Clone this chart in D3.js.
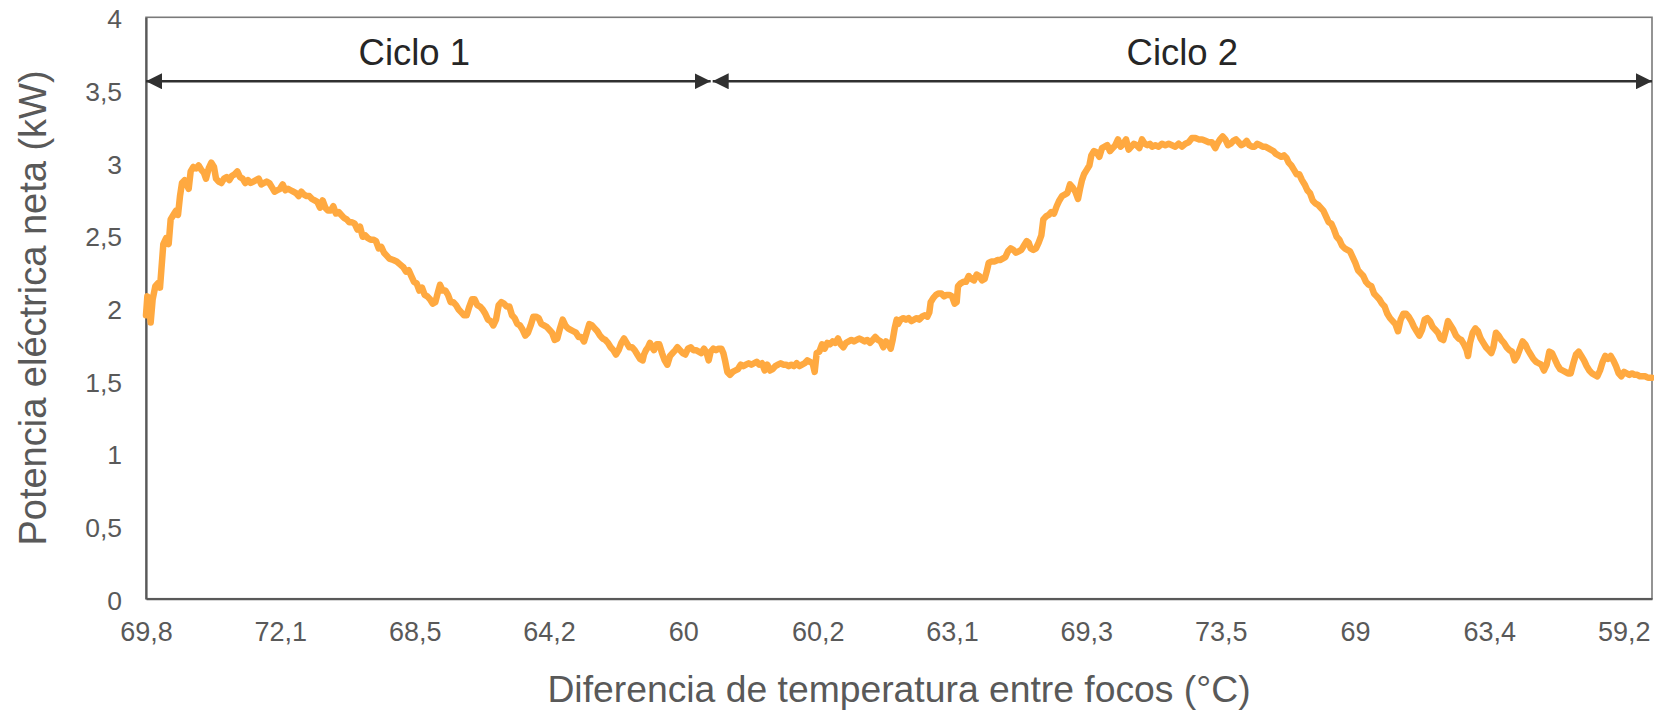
<!DOCTYPE html>
<html>
<head>
<meta charset="utf-8">
<script src="https://cdn.jsdelivr.net/npm/d3@7/dist/d3.min.js"></script>
<style>
  html, body { margin: 0; padding: 0; background: #ffffff; }
  svg { display: block; font-family: "Liberation Sans", Arial, sans-serif; }
</style>
</head>
<body>
<svg id="chart" width="1654" height="712"></svg>
<script>
// ---------------- DATA ----------------
// Category tick labels (Diferencia de temperatura entre focos, °C), one every 403 samples
const xTickLabels = ["69,8","72,1","68,5","64,2","60","60,2","63,1","69,3","73,5","69","63,4","59,2"];
const tickInterval = 403;
const sampleCount = 4518;
const yTickValues = [0, 0.5, 1, 1.5, 2, 2.5, 3, 3.5, 4];

// Cycle annotations: [label, startSample, endSample]
const cycles = [["Ciclo 1", 0, 1694], ["Ciclo 2", 1700, 4518]];
const cycleLevel = 3.56;

// Net electric power (kW): [sample index, value]
const powerReadings = [
[0,1.95],[4,2.08],[9,2.07],[14,1.90],[20,2.06],[28,2.15],[36,2.17],[42,2.14],[46,2.26],[52,2.44],[60,2.48],[68,2.44],
[74,2.61],[82,2.64],[90,2.67],[96,2.64],[102,2.77],[108,2.86],[116,2.88],[122,2.85],[128,2.82],[134,2.94],[142,2.97],
[150,2.96],[158,2.98],[166,2.95],[174,2.93],[180,2.89],[188,2.96],[196,3.00],[204,2.97],[210,2.89],[218,2.87],[226,2.86],
[234,2.89],[242,2.90],[250,2.88],[258,2.91],[266,2.92],[274,2.94],[282,2.90],[290,2.89],[298,2.86],[306,2.88],[314,2.86],
[322,2.87],[330,2.88],[338,2.89],[346,2.85],[354,2.86],[362,2.87],[370,2.86],[378,2.83],[386,2.80],[394,2.81],[402,2.82],
[410,2.85],[418,2.81],[426,2.82],[434,2.81],[442,2.80],[450,2.79],[458,2.77],[466,2.80],[474,2.78],[482,2.77],[490,2.77],
[498,2.75],[506,2.74],[514,2.73],[522,2.69],[530,2.74],[538,2.69],[546,2.67],[554,2.67],[562,2.70],[570,2.65],[578,2.66],
[586,2.64],[594,2.62],[602,2.61],[610,2.59],[618,2.59],[626,2.58],[634,2.54],[642,2.56],[650,2.49],[658,2.50],[666,2.48],
[674,2.47],[682,2.47],[690,2.46],[698,2.41],[706,2.42],[714,2.38],[722,2.36],[730,2.34],
[742,2.33],[752,2.32],[762,2.30],[772,2.28],[780,2.25],[788,2.26],[796,2.22],[804,2.18],[812,2.17],[820,2.12],[828,2.14],
[836,2.09],[844,2.08],[852,2.06],[860,2.03],[868,2.04],[876,2.11],[882,2.16],[890,2.12],[898,2.12],[906,2.09],[914,2.04],
[922,2.04],[930,2.02],[938,1.99],[946,1.97],[954,1.95],[962,1.95],[970,2.01],[978,2.06],[986,2.06],[994,2.02],[1002,2.01],
[1010,1.99],[1018,1.96],[1026,1.92],[1034,1.91],[1042,1.88],[1050,1.92],[1058,2.02],[1066,2.04],[1074,2.03],[1082,2.01],
[1090,2.01],[1098,1.95],[1106,1.93],[1114,1.89],[1122,1.88],[1130,1.85],[1138,1.81],[1146,1.83],[1154,1.88],[1162,1.94],
[1170,1.94],[1178,1.93],[1186,1.89],[1194,1.88],[1202,1.87],[1210,1.85],[1218,1.83],[1226,1.78],[1234,1.79],[1242,1.86],
[1250,1.92],[1258,1.88],[1266,1.86],[1274,1.85],[1282,1.84],[1290,1.83],[1298,1.80],[1306,1.80],[1314,1.77],[1322,1.83],
[1330,1.89],[1338,1.88],[1346,1.86],[1354,1.84],[1362,1.81],[1370,1.79],[1378,1.78],[1386,1.76],[1394,1.73],[1402,1.71],
[1410,1.68],[1418,1.71],[1426,1.76],[1434,1.79],[1442,1.76],[1450,1.73],[1458,1.73],[1466,1.71],[1474,1.68],[1482,1.65],
[1490,1.64],
[1494,1.68],[1500,1.71],[1506,1.73],[1512,1.76],[1518,1.73],[1524,1.71],[1532,1.75],[1540,1.75],[1548,1.69],[1556,1.64],
[1564,1.61],[1572,1.67],[1580,1.69],[1588,1.71],[1594,1.73],[1602,1.71],[1610,1.69],[1618,1.68],[1626,1.72],[1634,1.73],
[1642,1.71],[1650,1.71],[1658,1.70],[1666,1.69],[1674,1.72],[1682,1.69],[1688,1.64],[1694,1.70],[1702,1.72],[1710,1.71],
[1718,1.72],[1726,1.72],[1732,1.69],[1738,1.63],[1744,1.56],[1752,1.54],[1760,1.56],[1768,1.57],[1776,1.58],[1784,1.61],
[1792,1.60],[1800,1.61],[1808,1.62],[1816,1.61],[1824,1.62],[1832,1.63],[1840,1.61],[1848,1.62],[1856,1.57],[1864,1.61],
[1872,1.57],[1880,1.58],[1888,1.60],[1896,1.61],[1904,1.62],[1912,1.61],[1920,1.61],[1928,1.60],[1936,1.61],[1944,1.60],
[1952,1.62],[1960,1.60],[1968,1.61],[1976,1.62],[1984,1.64],[1992,1.63],[2000,1.62],[2006,1.56],[2012,1.69],[2020,1.70],
[2028,1.75],[2036,1.72],[2044,1.76],[2052,1.75],[2060,1.77],[2068,1.76],[2076,1.79],[2084,1.75],[2092,1.73],[2100,1.76],
[2108,1.77],[2116,1.78],[2124,1.77],[2132,1.78],[2140,1.79],[2148,1.78],[2156,1.77],[2164,1.78],[2172,1.76],[2180,1.78],
[2188,1.80],[2196,1.78],[2204,1.77],[2212,1.73],[2220,1.77],[2228,1.75],[2234,1.72],[2240,1.78],[2246,1.86],[2252,1.92],
[2256,1.89],[2264,1.92],[2272,1.93],[2280,1.92],[2288,1.93],[2296,1.91],[2304,1.92],[2312,1.93],[2320,1.92],[2328,1.94],
[2336,1.95],[2344,1.94],[2350,1.97],[2354,2.04],[2362,2.07],[2370,2.09],[2378,2.10],[2386,2.10],[2394,2.08],[2402,2.09],
[2410,2.09],[2418,2.08],[2426,2.03],[2432,2.04],[2436,2.15],[2444,2.17],[2452,2.18],[2460,2.18],[2468,2.22],[2476,2.20],
[2484,2.19],[2492,2.23],[2500,2.22],[2508,2.19],[2516,2.20],[2522,2.25],[2528,2.31],[2536,2.32],[2546,2.32],[2554,2.33],
[2562,2.33],[2570,2.34],[2578,2.35],[2586,2.39],[2594,2.41],[2602,2.40],[2610,2.38],[2618,2.39],[2626,2.40],[2634,2.43],
[2642,2.46],[2648,2.45],[2654,2.41],[2662,2.40],[2670,2.41],[2678,2.45],[2686,2.50],[2692,2.61],[2700,2.63],[2708,2.64],
[2716,2.66],[2724,2.65],[2732,2.70],[2740,2.74],[2748,2.77],[2756,2.78],[2764,2.79],[2772,2.85],[2780,2.83],[2788,2.80],
[2796,2.75],[2802,2.82],[2808,2.88],[2814,2.92],[2822,2.95],[2830,2.98],[2836,3.05],[2844,3.08],[2852,3.07],[2860,3.04],
[2868,3.10],[2876,3.11],[2884,3.12],[2892,3.08],[2900,3.10],[2908,3.12],[2916,3.16],[2924,3.11],[2932,3.13],[2940,3.16],
[2948,3.09],[2956,3.11],[2964,3.13],[2972,3.12],[2980,3.10],[2988,3.16],[2996,3.13],[3004,3.12],[3012,3.13],
[3018,3.11],[3028,3.12],[3038,3.11],[3048,3.13],[3058,3.12],[3068,3.13],[3078,3.12],[3088,3.11],[3098,3.13],[3108,3.11],
[3118,3.13],[3128,3.14],[3138,3.17],[3148,3.17],[3158,3.16],[3168,3.16],[3178,3.15],[3188,3.14],[3198,3.14],[3208,3.10],
[3214,3.13],[3222,3.16],[3230,3.18],[3238,3.16],[3246,3.12],[3254,3.13],[3262,3.15],[3270,3.16],[3278,3.14],[3286,3.12],
[3294,3.13],[3302,3.15],[3310,3.12],[3318,3.11],[3326,3.11],[3334,3.13],[3342,3.12],[3350,3.11],[3358,3.11],[3366,3.10],
[3374,3.09],[3382,3.08],[3390,3.06],[3398,3.05],[3406,3.04],[3414,3.05],[3422,3.03],[3428,3.00],[3436,2.98],[3444,2.95],
[3452,2.92],[3460,2.92],[3468,2.88],[3476,2.85],[3484,2.81],[3492,2.79],[3500,2.74],[3508,2.72],[3516,2.71],[3524,2.69],
[3532,2.67],[3540,2.63],[3548,2.59],[3556,2.58],[3564,2.54],[3572,2.49],[3580,2.47],[3588,2.43],[3596,2.41],[3604,2.40],
[3612,2.39],[3620,2.35],[3628,2.31],[3636,2.26],[3644,2.24],[3652,2.22],[3660,2.18],[3668,2.16],[3676,2.15],[3684,2.10],
[3692,2.08],[3700,2.06],[3708,2.03],[3716,2.01],[3724,1.96],[3732,1.93],[3740,1.91],[3748,1.89],[3756,1.84],[3764,1.92],
[3772,1.96],
[3780,1.96],[3788,1.94],[3796,1.91],[3804,1.87],[3812,1.84],[3820,1.81],[3828,1.85],[3836,1.92],[3844,1.93],[3852,1.91],
[3860,1.87],[3868,1.85],[3876,1.83],[3884,1.79],[3892,1.78],[3900,1.85],[3906,1.91],[3914,1.88],[3922,1.85],[3930,1.81],
[3938,1.79],[3946,1.78],[3954,1.75],[3962,1.71],[3966,1.67],[3972,1.76],[3980,1.83],[3988,1.86],[3996,1.84],[4004,1.79],
[4012,1.76],[4020,1.73],[4028,1.71],[4036,1.69],[4042,1.73],[4050,1.83],[4058,1.81],[4066,1.78],[4074,1.76],[4082,1.73],
[4090,1.71],[4098,1.70],[4106,1.64],[4114,1.67],[4122,1.72],[4130,1.77],[4138,1.75],[4146,1.71],[4154,1.68],[4162,1.65],
[4170,1.63],[4178,1.62],[4186,1.61],[4194,1.57],[4202,1.61],[4210,1.70],[4218,1.69],[4226,1.65],[4234,1.61],[4242,1.58],
[4250,1.57],[4258,1.56],[4266,1.55],[4274,1.55],[4282,1.62],[4290,1.68],[4298,1.70],[4306,1.67],[4314,1.64],[4322,1.60],
[4330,1.57],[4338,1.55],[4346,1.54],[4354,1.53],[4362,1.57],[4370,1.63],[4378,1.67],[4386,1.65],[4394,1.67],[4402,1.64],
[4410,1.60],[4418,1.55],[4426,1.53],[4434,1.56],[4442,1.55],[4450,1.54],[4458,1.55],[4466,1.54],[4474,1.54],[4482,1.53],
[4490,1.53],[4498,1.53],[4506,1.52],[4514,1.52],[4518,1.52]
];

// ---------------- LAYOUT ----------------
const plot = { left: 146, right: 1652, top: 17.3, bottom: 598.7 };
const textGray = "#595959";

const svg = d3.select("#chart");

const x = d3.scaleLinear().domain([0, sampleCount]).range([plot.left, plot.right]);
const y = d3.scaleLinear().domain([0, 4]).range([plot.bottom, plot.top]);

// Frame (top/right lighter, axes darker)
svg.append("rect")
  .attr("x", plot.left).attr("y", plot.top)
  .attr("width", plot.right - plot.left).attr("height", plot.bottom - plot.top)
  .attr("fill", "none").attr("stroke", "#7a7a7a").attr("stroke-width", 1.6);

// Y axis
const yAxis = d3.axisLeft(y)
  .tickValues(yTickValues)
  .tickSize(0)
  .tickPadding(24)
  .tickFormat(d => String(d).replace(".", ","));
const gy = svg.append("g").attr("transform", `translate(${plot.left},0)`).call(yAxis);
gy.select(".domain").attr("stroke", "#595959").attr("stroke-width", 2.2);
gy.selectAll("text")
  .attr("font-family", "Liberation Sans, Arial, sans-serif")
  .attr("font-size", 26.5).attr("fill", textGray).attr("dy", "0.40em");

// X axis (category labels)
const xAxis = d3.axisBottom(x)
  .tickValues(xTickLabels.map((_, i) => i * tickInterval))
  .tickSize(0)
  .tickPadding(23)
  .tickFormat((d, i) => xTickLabels[i]);
const gx = svg.append("g").attr("transform", `translate(0,${plot.bottom})`).call(xAxis);
gx.select(".domain").attr("stroke", "#595959").attr("stroke-width", 2.2);
gx.selectAll("text")
  .attr("font-family", "Liberation Sans, Arial, sans-serif")
  .attr("font-size", 27).attr("fill", textGray);

// Data line
const line = d3.line()
  .x(d => x(d[0]))
  .y(d => y(d[1]));

svg.append("path")
  .datum(powerReadings)
  .attr("d", line)
  .attr("fill", "none")
  .attr("stroke", "#FFA940")
  .attr("stroke-width", 6.5)
  .attr("stroke-linejoin", "round")
  .attr("stroke-linecap", "round");

// Arrow markers
const defs = svg.append("defs");
defs.append("marker")
  .attr("id", "arrowEnd")
  .attr("markerUnits", "userSpaceOnUse")
  .attr("viewBox", "0 -8 16 16")
  .attr("refX", 16).attr("refY", 0)
  .attr("markerWidth", 16).attr("markerHeight", 16)
  .attr("orient", "auto")
  .append("path").attr("d", "M0,-8L16,0L0,8Z").attr("fill", "#303030");
defs.append("marker")
  .attr("id", "arrowStart")
  .attr("markerUnits", "userSpaceOnUse")
  .attr("viewBox", "0 -8 16 16")
  .attr("refX", 0).attr("refY", 0)
  .attr("markerWidth", 16).attr("markerHeight", 16)
  .attr("orient", "auto")
  .append("path").attr("d", "M16,-8L0,0L16,8Z").attr("fill", "#303030");

const labelOffsets = [ -14, 0 ];
cycles.forEach((c, i) => {
  const [label, s, e] = c;
  svg.append("line")
    .attr("x1", x(s)).attr("x2", x(e))
    .attr("y1", y(cycleLevel)).attr("y2", y(cycleLevel))
    .attr("stroke", "#303030").attr("stroke-width", 2.7)
    .attr("marker-start", "url(#arrowStart)")
    .attr("marker-end", "url(#arrowEnd)");
  svg.append("text")
    .attr("x", (x(s) + x(e)) / 2 + labelOffsets[i])
    .attr("y", 65)
    .attr("text-anchor", "middle")
    .attr("font-size", 36.5)
    .attr("fill", "#262626")
    .text(label);
});

// Axis titles
svg.append("text")
  .attr("transform", `translate(46,${(plot.top + plot.bottom) / 2}) rotate(-90)`)
  .attr("text-anchor", "middle")
  .attr("font-size", 38)
  .attr("fill", textGray)
  .text("Potencia eléctrica neta (kW)");

svg.append("text")
  .attr("x", (plot.left + plot.right) / 2)
  .attr("y", 702)
  .attr("text-anchor", "middle")
  .attr("font-size", 37.3)
  .attr("fill", textGray)
  .text("Diferencia de temperatura entre focos (°C)");
</script>
</body>
</html>
